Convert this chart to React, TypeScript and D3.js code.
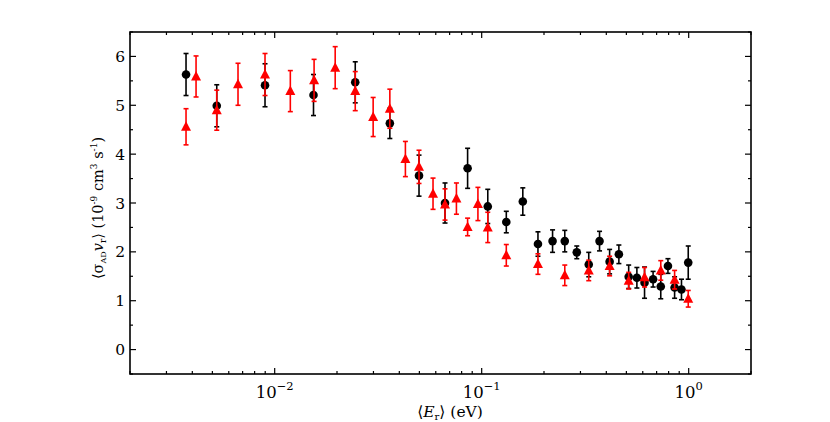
import React, { useEffect, useRef } from 'react'
import * as d3 from 'd3'

// black circles: energy (eV), rate, error
const blackE = [0.00373, 0.00525, 0.00898, 0.0154, 0.0245, 0.036, 0.0498, 0.0665, 0.0855, 0.107, 0.1315, 0.158, 0.187, 0.22, 0.252, 0.288, 0.329, 0.371, 0.415, 0.46, 0.513, 0.562, 0.612, 0.673, 0.733, 0.794, 0.855, 0.923, 0.995]
const blackV = [5.63, 4.99, 5.41, 5.21, 5.47, 4.63, 3.56, 3.00, 3.71, 2.93, 2.61, 3.03, 2.16, 2.22, 2.22, 1.99, 1.74, 2.22, 1.80, 1.95, 1.49, 1.47, 1.37, 1.44, 1.29, 1.71, 1.27, 1.23, 1.78]
const blackErr = [0.43, 0.43, 0.44, 0.42, 0.42, 0.31, 0.42, 0.41, 0.41, 0.35, 0.22, 0.28, 0.25, 0.23, 0.22, 0.13, 0.25, 0.20, 0.25, 0.19, 0.24, 0.21, 0.32, 0.16, 0.25, 0.15, 0.22, 0.21, 0.34]

// red triangles
const redE = [0.00373, 0.00417, 0.00525, 0.00665, 0.00898, 0.0119, 0.0155, 0.0196, 0.0245, 0.0299, 0.036, 0.0428, 0.0498, 0.0582, 0.0665, 0.0755, 0.0855, 0.0959, 0.107, 0.1315, 0.187, 0.252, 0.329, 0.415, 0.513, 0.612, 0.733, 0.855, 0.995]
const redV = [4.56, 5.59, 4.90, 5.43, 5.63, 5.29, 5.51, 5.77, 5.29, 4.76, 4.93, 3.90, 3.74, 3.19, 2.97, 3.09, 2.51, 2.98, 2.50, 1.93, 1.75, 1.52, 1.62, 1.71, 1.41, 1.48, 1.62, 1.43, 1.04]
const redErr = [0.37, 0.42, 0.41, 0.43, 0.43, 0.42, 0.43, 0.43, 0.40, 0.40, 0.40, 0.36, 0.34, 0.32, 0.32, 0.32, 0.18, 0.34, 0.31, 0.22, 0.21, 0.21, 0.21, 0.20, 0.17, 0.20, 0.20, 0.19, 0.17]

const yTicks = [0, 1, 2, 3, 4, 5, 6]
const yMinor = [-0.5, 0.5, 1.5, 2.5, 3.5, 4.5, 5.5, 6.5]
const xDecades = [-2, -1, 0]

const FONT = "'DejaVu Serif', serif"

const App = () => {
    const ref = useRef<SVGSVGElement>(null)

    useEffect(() => {
        const w = 830, h = 422
        const left = 130, right = 751, top = 32, bottom = 374
        const svg = d3.select(ref.current)
        svg.selectAll('*').remove()
        svg.append('rect').attr('width', w).attr('height', h).attr('fill', '#fff')

        const x = d3.scaleLog().domain([0.002, 2]).range([left, right])
        const y = d3.scaleLinear().domain([-0.5, 6.5]).range([bottom, top])

        const axis = svg.append('g').attr('stroke', '#000').attr('stroke-width', 1.2)

        // x ticks, inward, bottom and top
        const xMajor = xDecades.map(d => Math.pow(10, d))
        const xMinorVals = x.ticks().filter(t => !xMajor.some(m => Math.abs(m - t) < 1e-12))
        xMajor.forEach(t => {
            axis.append('line').attr('x1', x(t)).attr('x2', x(t)).attr('y1', bottom).attr('y2', bottom - 6)
            axis.append('line').attr('x1', x(t)).attr('x2', x(t)).attr('y1', top).attr('y2', top + 6)
        })
        xMinorVals.forEach(t => {
            axis.append('line').attr('x1', x(t)).attr('x2', x(t)).attr('y1', bottom).attr('y2', bottom - 3)
            axis.append('line').attr('x1', x(t)).attr('x2', x(t)).attr('y1', top).attr('y2', top + 3)
        })

        // y ticks, inward, left and right
        yTicks.forEach(t => {
            axis.append('line').attr('x1', left).attr('x2', left + 6).attr('y1', y(t)).attr('y2', y(t))
            axis.append('line').attr('x1', right).attr('x2', right - 6).attr('y1', y(t)).attr('y2', y(t))
        })
        yMinor.forEach(t => {
            axis.append('line').attr('x1', left).attr('x2', left + 3).attr('y1', y(t)).attr('y2', y(t))
            axis.append('line').attr('x1', right).attr('x2', right - 3).attr('y1', y(t)).attr('y2', y(t))
        })

        axis.append('rect')
            .attr('x', left).attr('y', top)
            .attr('width', right - left).attr('height', bottom - top)
            .attr('fill', 'none').attr('stroke-width', 1.6)

        // tick labels
        svg.append('g').selectAll('text').data(yTicks).join('text')
            .attr('x', left - 5).attr('y', d => y(d) + 5.5)
            .attr('text-anchor', 'end')
            .style('font-family', FONT).style('font-size', '15.5px')
            .text(d => d)

        const xl = svg.append('g').selectAll('text').data(xDecades).join('text')
            .attr('x', d => x(Math.pow(10, d)))
            .attr('y', 398)
            .attr('text-anchor', 'middle')
            .style('font-family', FONT).style('font-size', '16.5px')
        xl.append('tspan').text('10')
        xl.append('tspan').attr('dy', -8).style('font-size', '11.5px')
            .text(d => d < 0 ? '\u2212' + Math.abs(d) : String(d))

        // axis labels
        const xt = svg.append('text')
            .attr('x', 450).attr('y', 417)
            .attr('text-anchor', 'middle')
            .style('font-family', FONT).style('font-size', '15.5px')
        xt.append('tspan').text('\u27E8')
        xt.append('tspan').style('font-style', 'italic').text('E')
        xt.append('tspan').style('font-size', '10px').attr('dy', 3).text('r')
        xt.append('tspan').attr('dy', -3).text('\u27E9 (eV)')

        const yt = svg.append('text')
            .attr('transform', `translate(103,${(top + bottom) / 2 + 5}) rotate(-90)`)
            .attr('text-anchor', 'middle')
            .style('font-family', FONT).style('font-size', '14.5px')
        yt.append('tspan').text('\u27E8\u03C3')
        yt.append('tspan').style('font-size', '8px').attr('dy', 3).text('AD')
        yt.append('tspan').attr('dy', -3).style('font-style', 'italic').text('v')
        yt.append('tspan').style('font-size', '9px').attr('dy', 3).text('r')
        yt.append('tspan').attr('dy', -3).text('\u27E9 (10')
        yt.append('tspan').style('font-size', '9px').attr('dy', -6).text('-9')
        yt.append('tspan').attr('dy', 6).text(' cm')
        yt.append('tspan').style('font-size', '9px').attr('dy', -6).text('3')
        yt.append('tspan').attr('dy', 6).text(' s')
        yt.append('tspan').style('font-size', '9px').attr('dy', -6).text('-1')
        yt.append('tspan').attr('dy', 6).text(')')

        const black = blackE.map((e, i) => ({ e, v: blackV[i], err: blackErr[i] }))
        const red = redE.map((e, i) => ({ e, v: redV[i], err: redErr[i] }))

        const drawErr = (data: { e: number, v: number, err: number }[], color: string) => {
            const g = svg.append('g').attr('stroke', color).attr('stroke-width', 1.6)
            data.forEach(d => {
                const cx = x(d.e)
                const y1 = y(d.v + d.err), y2 = y(d.v - d.err)
                g.append('line').attr('x1', cx).attr('x2', cx).attr('y1', y1).attr('y2', y2)
                g.append('line').attr('x1', cx - 2.5).attr('x2', cx + 2.5).attr('y1', y1).attr('y2', y1)
                g.append('line').attr('x1', cx - 2.5).attr('x2', cx + 2.5).attr('y1', y2).attr('y2', y2)
            })
        }

        drawErr(black, '#000')
        svg.append('g').selectAll('circle').data(black).join('circle')
            .attr('cx', d => x(d.e)).attr('cy', d => y(d.v))
            .attr('r', 4.3).attr('fill', '#000')

        drawErr(red, '#ff0000')
        svg.append('g').selectAll('path').data(red).join('path')
            .attr('d', d => {
                const cx = x(d.e), cy = y(d.v)
                return `M${cx},${cy - 5.5}L${cx + 5},${cy + 4}L${cx - 5},${cy + 4}Z`
            })
            .attr('fill', '#ff0000')
    }, [])

    return (
        <svg ref={ref} width={830} height={422}
            style={{ position: 'absolute', left: 0, top: 0, display: 'block' }} />
    )
}

export default App
